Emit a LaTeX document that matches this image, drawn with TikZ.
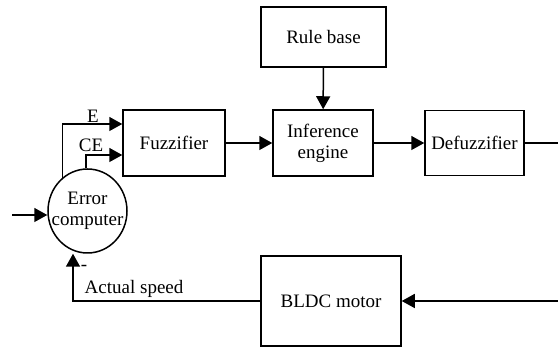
\documentclass[tikz,border=0pt]{standalone}
\usepackage{fontspec}
\setmainfont{Liberation Serif}
\usetikzlibrary{arrows.meta,shapes.geometric}
\begin{document}
\begin{tikzpicture}[
                x=1pt, y=-1pt,
                font=\fontsize{19}{21}\selectfont,
                block/.style={draw, rectangle, line width=1.5pt, align=center, inner sep=0pt},
                arr/.style={-{Triangle[length=13pt,width=14pt]}},
                every path/.style={line width=1.5pt},
            ]
            \useasboundingbox (0,0) rectangle (558,347);
            % fuzzy controller
            \node[block, minimum width=125pt, minimum height=60pt] (rule) at (323.5,37) {Rule base};
            \node[block, minimum width=102pt, minimum height=66pt] (fuzz) at (174,143) {Fuzzifier};
            \node[block, minimum width=100pt, minimum height=66pt] (infer) at (323,143) {Inference\\engine};
            \node[block, minimum width=99pt, minimum height=65pt] (defuzz) at (474.5,143) {Defuzzifier};
            % plant and error block
            \node[block, minimum width=140pt, minimum height=90pt] (motor) at (331,301) {BLDC motor};
            \node[draw, ellipse, line width=1.5pt, minimum width=79pt, minimum height=84pt,
                  inner xsep=-8.5pt, inner ysep=0pt, align=center] (err) at (87.5,211) {Error\\computer};
            % free ends
            \coordinate (in) at (12,215);
            \coordinate (out) at (558,143);
            \coordinate (drive) at (558,301);
            \coordinate (fb) at (73,301);
            % forward path
            \draw[arr] (rule) -- (infer);
            \draw[arr] (fuzz) -- (infer);
            \draw[arr] (infer) -- (defuzz);
            \draw (defuzz) -- (out);
            \draw[arr] (err.127) |- ([yshift=19pt]fuzz.west);
            \draw[arr] (err.92) |- ([yshift=-12pt]fuzz.west);
            \draw[arr] (in) -- (in -| err.west);
            % feedback
            \draw[arr] (drive) -- (motor);
            \draw[arr] (motor.west) -- (fb) -- (fb |- err.south);
            % labels
            \node (lE) at (93,116) {E};
            \node (lCE) at (91,145) {CE};
            \node (lminus) at (84,268) {-};
            \node[anchor=west, inner sep=0pt] (lspeed) at (84,289) {Actual speed};
            \end{tikzpicture}
\end{document}
